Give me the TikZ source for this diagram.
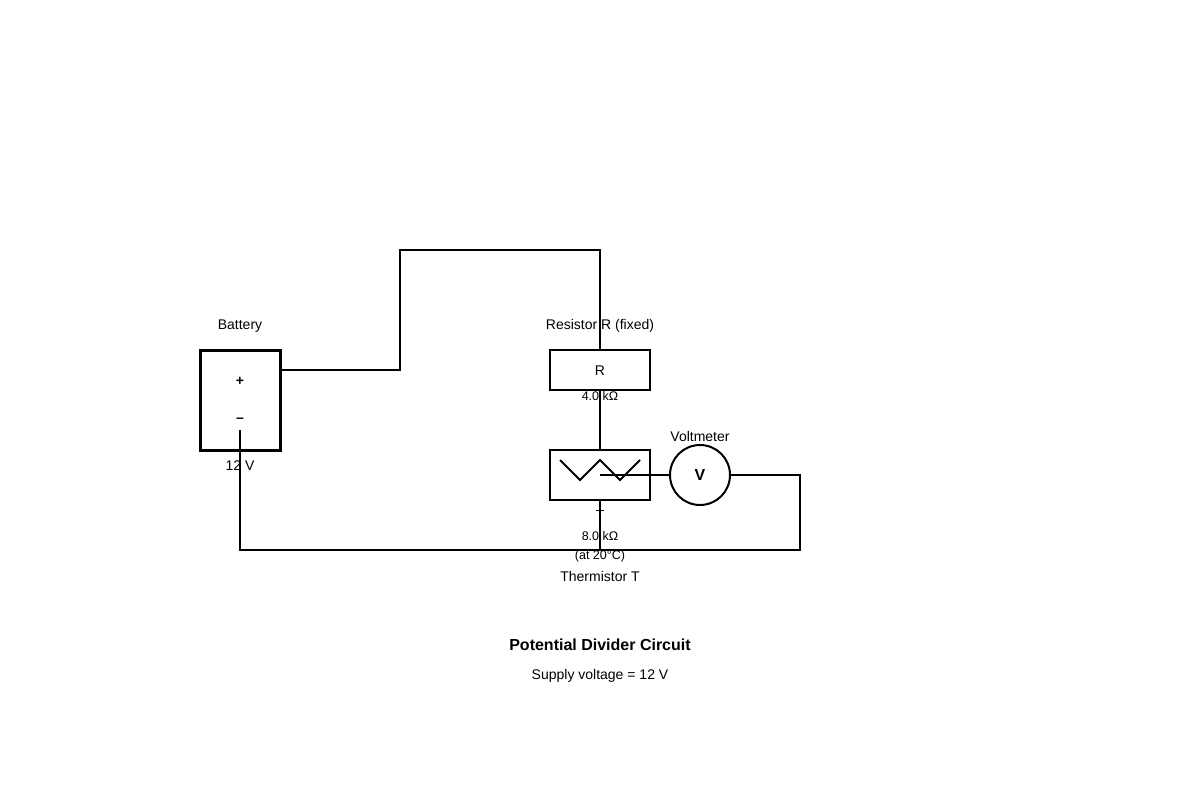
\documentclass[tikz,border=0pt]{standalone}
\usepackage{fontspec}
\setmainfont{Liberation Sans}
\begin{document}
\begin{tikzpicture}[x=1pt,y=-1pt,
  wire/.style={line width=2pt},
  lbl/.style={inner sep=0pt,font=\fontsize{14}{16}\selectfont},
  sm/.style={inner sep=0pt,font=\fontsize{12.5}{14}\selectfont}]
\useasboundingbox (0,0) rectangle (1200,800);
\node[draw,line width=3pt,minimum width=80pt,minimum height=100pt,inner sep=0pt] (bat) at (240,400) {};
\node[draw,line width=2pt,minimum width=100pt,minimum height=40pt,inner sep=0pt] (R) at (600,370) {};
\node[draw,line width=2pt,minimum width=100pt,minimum height=50pt,inner sep=0pt] (T) at (600,475) {};
\node[draw,circle,line width=2pt,minimum size=60pt,inner sep=0pt] (V) at (700,475) {};
\coordinate (a) at (400,370); \coordinate (b) at (400,250); \coordinate (c) at (600,250);
\coordinate (d) at (800,475); \coordinate (e) at (800,550); \coordinate (f) at (240,550);
\coordinate (g) at (240,430); \coordinate (h) at (600,550); \coordinate (tc) at (600,475);
\draw[wire] (bat.east |- a) -- (a) -- (b) -- (c) -- (R.north);
\draw[wire] (R.south) -- (T.north);
\draw[wire] (560,460) -- (580,480) -- (600,460) -- (620,480) -- (640,460);
\draw[wire] (tc) -- (V.west);
\draw[wire] (V.east) -- (d) -- (e) -- (f) -- (g);
\draw[wire] (T.south) -- (h);
\draw[line width=1pt] (596,510) -- (604,510);
\node[lbl] (lb) at (240,326) {Battery};
\node[lbl] (pl) at (240,381) {\textbf{+}};
\node[lbl] (mi) at (240,420) {\textbf{–}};
\node[lbl] (v12) at (240,466) {12 V};
\node[lbl] (lr) at (600,326) {Resistor R (fixed)};
\node[lbl] (rr) at (600,371) {R};
\node[sm] (r4) at (600,396) {4.0 kΩ};
\node[sm] (t8) at (600,536) {8.0 kΩ};
\node[sm] (t20) at (600,556) {(at 20°C)};
\node[lbl] (tt) at (600,576) {Thermistor T};
\node[lbl] (vm) at (700,436) {Voltmeter};
\node[inner sep=0pt,font=\fontsize{16}{18}\selectfont\bfseries] (vv) at (700,475) {V};
\node[inner sep=0pt,font=\fontsize{16}{18}\selectfont\bfseries] (ti) at (600,645) {Potential Divider Circuit};
\node[lbl] (sv) at (600,676) {Supply voltage = 12 V};
\end{tikzpicture}
\end{document}
